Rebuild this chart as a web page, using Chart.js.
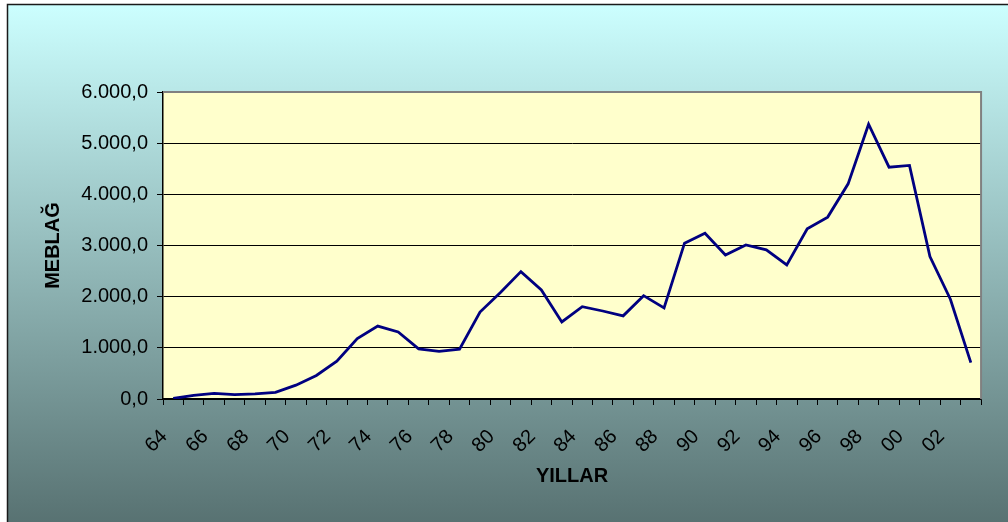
<!DOCTYPE html>
<html>
<head>
<meta charset="utf-8">
<script src="https://cdn.jsdelivr.net/npm/chart.js@4/dist/chart.umd.min.js"></script>
<style>
  html, body { margin: 0; padding: 0; background: #fff; }
  #wrap { width: 1008px; height: 522px; }
</style>
</head>
<body>
<div id="wrap"><canvas id="line-chart" width="1008" height="522"></canvas></div>
<script>
const years = ["64", "65", "66", "67", "68", "69", "70", "71", "72", "73",
  "74", "75", "76", "77", "78", "79", "80", "81", "82", "83",
  "84", "85", "86", "87", "88", "89", "90", "91", "92", "93",
  "94", "95", "96", "97", "98", "99", "00", "01", "02", "03"];
const amounts = [10, 70, 110, 85, 100, 130, 270, 460, 740, 1180,
  1425, 1310, 980, 930, 975, 1700, 2080, 2490, 2130, 1505,
  1805, 1720, 1625, 2020, 1780, 3045, 3240, 2815, 3010, 2915,
  2620, 3325, 3555, 4205, 5370, 4530, 4565, 2785, 1950, 710];
const yTicks = [0, 1000, 2000, 3000, 4000, 5000, 6000];

const fmt = (v) => {
  const s = Math.round(v).toString().replace(/\B(?=(\d{3})+(?!\d))/g, ".");
  return s + ",0";
};

const backdrop = {
  id: "backdrop",
  beforeDraw(chart) {
    const { ctx, width, height, chartArea: a } = chart;
    ctx.save();
    ctx.fillStyle = "#fff";
    ctx.fillRect(0, 0, width, height);
    const g = ctx.createLinearGradient(0, 4, 0, height);
    g.addColorStop(0, "#ccffff");
    g.addColorStop(1, "#587272");
    ctx.fillStyle = g;
    ctx.fillRect(7, 4, width - 7, height - 4);
    ctx.strokeStyle = "#1a1a1a";
    ctx.lineWidth = 1.5;
    ctx.beginPath();
    ctx.moveTo(7.5, height);
    ctx.lineTo(7.5, 4.5);
    ctx.lineTo(width, 4.5);
    ctx.stroke();
    ctx.fillStyle = "#ffffcc";
    ctx.fillRect(a.left, a.top, a.right - a.left, a.bottom - a.top);
    ctx.restore();
  },
  afterDatasetsDraw(chart) {
    const { ctx, chartArea: a } = chart;
    ctx.save();
    ctx.strokeStyle = "#808080";
    ctx.lineWidth = 2;
    ctx.beginPath();
    ctx.moveTo(a.left, a.top);
    ctx.lineTo(a.right, a.top);
    ctx.lineTo(a.right, a.bottom);
    ctx.stroke();
    ctx.restore();
  },
};

new Chart(document.getElementById("line-chart"), {
  type: "line",
  data: {
    labels: years,
    datasets: [
      {
        data: amounts,
        borderColor: "#000080",
        borderWidth: 2.8,
        pointRadius: 0,
        tension: 0,
        fill: false,
      },
    ],
  },
  plugins: [backdrop],
  options: {
    responsive: false,
    animation: false,
    layout: { padding: { left: 0, top: 92, right: 15, bottom: 0 } },
    plugins: {
      legend: { display: false },
      tooltip: { enabled: false },
    },
    scales: {
      x: {
        offset: true,
        afterFit: (s) => { s.height = 123; },
        grid: {
          offset: true,
          drawOnChartArea: false,
          drawTicks: true,
          tickLength: 6,
          color: "#000",
        },
        border: { color: "#000", width: 1.5 },
        ticks: {
          autoSkip: false,
          maxRotation: 45,
          minRotation: 45,
          padding: 20,
          labelOffset: -9,
          color: "#000",
          font: { family: "Liberation Sans", size: 20 },
          callback: function (v, i) {
            return i % 2 === 0 ? this.getLabelForValue(v) : "";
          },
        },
        title: {
          display: true,
          text: "YILLAR",
          color: "#000",
          font: { family: "Liberation Sans", size: 20, weight: "bold" },
          padding: { top: 0, bottom: 34 },
        },
      },
      y: {
        min: 0,
        max: 6000,
        afterFit: (s) => { s.width = 163; },
        afterBuildTicks: (s) => { s.ticks = yTicks.map((v) => ({ value: v })); },
        grid: {
          color: "#000",
          lineWidth: 1,
          tickLength: 6,
        },
        border: { color: "#000", width: 1.5 },
        ticks: {
          padding: 9,
          color: "#000",
          font: { family: "Liberation Sans", size: 20 },
          callback: (v) => fmt(v),
        },
        title: {
          display: true,
          text: "MEBLAĞ",
          color: "#000",
          font: { family: "Liberation Sans", size: 20, weight: "bold" },
          padding: { top: 41, bottom: 0 },
        },
      },
    },
  },
});
</script>
</body>
</html>
